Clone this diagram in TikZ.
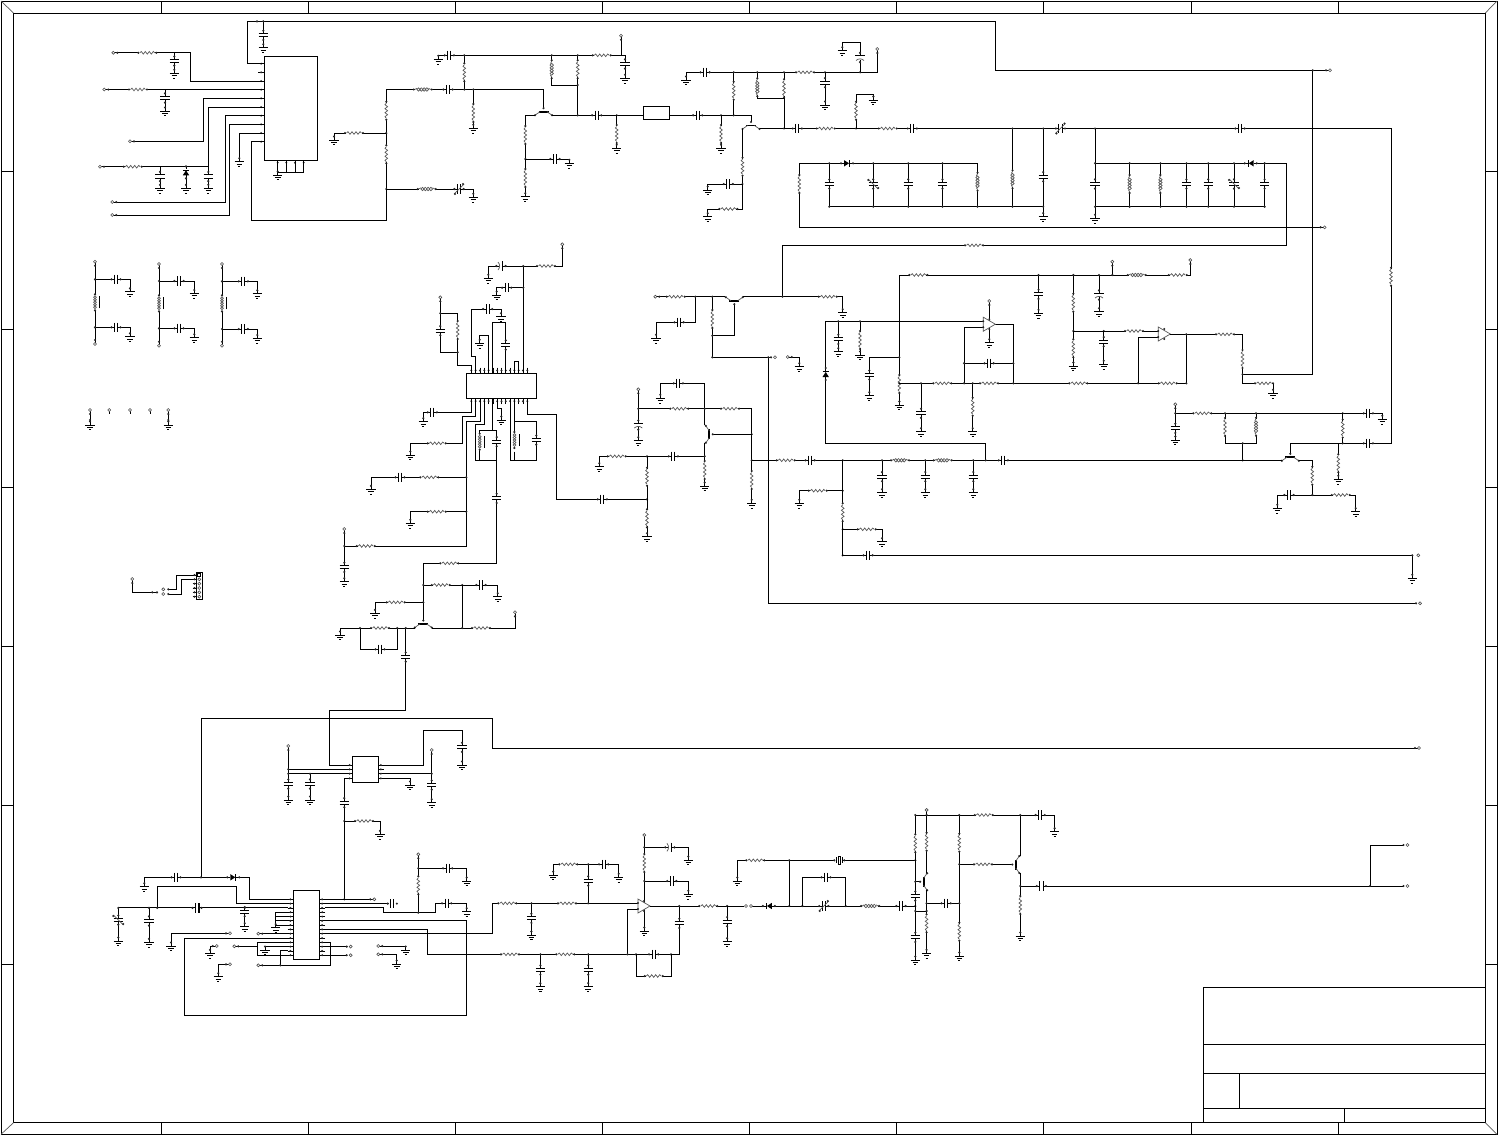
\documentclass[tikz,border=0pt]{standalone}
\usetikzlibrary{calc}
\tikzset{
  wire/.style={black,line width=1pt,line join=miter},
  frameline/.style={black,line width=1pt},
  part/.style={black!65,line width=0.7pt},
  plate/.style={black,line width=1pt},
  erase/.style={white,line width=1.8pt},
  pinfill/.style={black!85},
}
\newcommand{\xW}[1]{\draw[wire] #1;}
\newcommand{\xJ}[1]{\foreach \p in {#1}{\fill[pinfill] \p circle (1.2);}}
\newcommand{\xpins}[1]{\fill[pinfill] (-#1,0) circle (1.2) (#1,0) circle (1.2);}
\newcommand{\xres}{\draw[erase] (-8,0)--(8,0);
  \draw[part] (-7.5,0)--(-6,-1.3)--(-4,1.3)--(-2,-1.3)--(0,1.3)--(2,-1.3)--(4,1.3)--(6,-1.3)--(7.5,0); \xpins{9}}
\newcommand{\xcap}{\draw[erase] (-1.5,0)--(1.5,0);
  \draw[plate] (-1.6,-4.6)--(-1.6,4.6) (1.6,-4.6)--(1.6,4.6); \xpins{4.6}}
\newcommand{\xind}{\draw[erase] (-8,0)--(8,0);
  \foreach \q in {-4.2,-1.4,1.4,4.2}{\draw[part] (\q,0) circle (1.7);}
  \draw[part] (-8,0)--(-5.8,-1.2) (8,0)--(5.8,-1.2); \xpins{9}}
\newcommand{\xcoil}{\draw[erase] (-8,0)--(8,0);\foreach \q in {-5,-2.5,0,2.5,5}{\draw[part] (\q,0) circle (1.4);}\xpins{8}\draw[black,line width=0.8pt] (-6,4.6)--(6,4.6);}
\newcommand{\xvar}{\xcap \draw[part] (-5,5)--(5,-5); \fill[pinfill] (4,-5) circle (1.1) (-4,5) circle (1.1);}
\newcommand{\xpol}{\draw[erase] (-2,0)--(2,0);
  \draw[plate] (1.6,-4.6)--(1.6,4.6); \draw[part] (-3,-4) .. controls (-0.8,-1.5) and (-0.8,1.5) .. (-3,4); \xpins{4.6}}
\newcommand{\xat}[4]{\begin{scope}[shift={(#1,#2)},rotate=#3]#4\end{scope}}
\newcommand{\xRh}[2]{\xat{#1}{#2}{0}{\xres}}
\newcommand{\xRv}[2]{\xat{#1}{#2}{90}{\xres}}
\newcommand{\xCh}[2]{\xat{#1}{#2}{0}{\xcap}}
\newcommand{\xCv}[2]{\xat{#1}{#2}{90}{\xcap}}
\newcommand{\xLh}[2]{\xat{#1}{#2}{0}{\xind}}
\newcommand{\xLv}[2]{\xat{#1}{#2}{90}{\xind}}
\newcommand{\xVh}[2]{\xat{#1}{#2}{0}{\xvar}}
\newcommand{\xVv}[2]{\xat{#1}{#2}{90}{\xvar}}
\newcommand{\xPh}[2]{\xat{#1}{#2}{0}{\xpol}}
\newcommand{\xPv}[2]{\xat{#1}{#2}{90}{\xpol}}
\newcommand{\xG}[2]{\xat{#1}{#2}{0}{\draw[plate] (-4.6,0)--(4.6,0) (-2.8,2.4)--(2.8,2.4) (-1.1,4.8)--(1.1,4.8); \fill[pinfill] (0,-3.5) circle (1.2);}}
\newcommand{\xTm}[2]{\filldraw[draw=black!70,fill=white,line width=0.6pt] (#1,#2) circle (1.5);}
\newcommand{\xTv}[2]{\xJ{(#1,#2+4)}\xTm{#1}{#2}}
\newcommand{\xTl}[2]{\xJ{(#1+4,#2)}\xTm{#1}{#2}}
\newcommand{\xTr}[2]{\xJ{(#1-4,#2)}\xTm{#1}{#2}}
\newcommand{\xQ}[3]{\xat{#1}{#2}{#3}{\draw[black,line width=1.9pt] (-5,0)--(5,0);
  \draw[part] (-3.5,0)--(-8.5,3.5) (3.5,0)--(8.5,3.5);
  \fill[pinfill] (-8.5,3.5) circle (1.2) (8.5,3.5) circle (1.2) (0,-3.5) circle (1.2);}}
\newcommand{\xO}[2]{\filldraw[draw=black!65,fill=white,line width=0.7pt] (#1,#2-7)--(#1,#2+7)--(#1+12,#2)--cycle;
  \fill[pinfill] (#1,#2-3) circle (1.1) (#1,#2+3) circle (1.1) (#1+6,#2-5) circle (1.1) (#1+6,#2+5) circle (1.1);}
\newcommand{\xD}[3]{\xat{#1}{#2}{#3}{\draw[erase] (-3,0)--(3,0);
  \fill[black] (-3,-3.2)--(-3,3.2)--(2,0)--cycle; \draw[black,line width=1.2pt] (2.2,-3.2)--(2.2,3.2); \xpins{6}}}
\newcommand{\xPl}[3]{\foreach \yy in {#3}{\draw[black,line width=0.8pt] (#1,\yy)--(#2,\yy); \fill[pinfill] ({(#1+#2)/2},\yy) circle (1.1);}}
\newcommand{\xPt}[3]{\foreach \xx in {#3}{\draw[black,line width=0.8pt] (\xx,#1)--(\xx,#2); \fill[pinfill] (\xx,{(#1+#2)/2}) circle (1.1);}}
\begin{document}
\begin{tikzpicture}[x=1pt,y=-1pt]
\useasboundingbox (0,0) rectangle (1498,1136);
\fill[white] (0,0) rectangle (1498,1136);
% ---------- sheet frame
\draw[frameline] (1,1) rectangle (1497,1134.3);
\draw[frameline] (13.5,13) rectangle (1485.3,1122.7);
\foreach \xx in {161,308,455,602,749,896,1043,1191,1338}{\draw[frameline] (\xx,1)--(\xx,13) (\xx,1122.7)--(\xx,1134.3);}
\foreach \yy in {171,329,487,646,805,964}{\draw[frameline] (1,\yy)--(13.5,\yy) (1485.3,\yy)--(1497,\yy);}
\draw[part] (1,1)--(13.5,13) (1497,1)--(1485.3,13) (1,1134.3)--(13.5,1122.7) (1497,1134.3)--(1485.3,1122.7);
% title block
\draw[frameline] (1203.3,1122.7)--(1203.3,987.3)--(1485.3,987.3);
\draw[frameline] (1203.3,1044.3)--(1485.3,1044.3) (1203.3,1073.3)--(1485.3,1073.3) (1203.3,1108.3)--(1485.3,1108.3);
\draw[frameline] (1239.3,1073.3)--(1239.3,1108.3) (1344.3,1108.3)--(1344.3,1122.7);

% ========== top-left chip
\xPl{258}{264.3}{63.7,72.3,81,89.7,98.3,107,115.7,124.3,133,141.7}
\xPt{160.3}{165}{277.7,286.3,295,303.7}
\draw[frameline] (264.3,56.3) rectangle (317.7,160.3);
\xW{(262,63.7)--(247.3,63.7)--(247.3,21.3)--(995,21.3)--(995,70.3)--(1330,70.3)}
\xW{(263.3,21.3)--(263.3,47.7)} \xCv{263.3}{35.3} \xG{263.3}{47.7} \xJ{(257,21.3),(263.3,21.3)}
\xW{(113.3,52.8)--(190.3,52.8)--(190.3,81)--(262,81)} \xTl{113.3}{52.8} \xRh{147.3}{52.8}
\xW{(174.3,52.8)--(174.3,73.3)} \xCv{174.3}{61} \xG{174.3}{73.3}
\xW{(104.3,89.5)--(262,89.5)} \xTl{104.3}{89.5} \xRh{138}{89.5}
\xW{(165,89.5)--(165,111)} \xCv{165}{98} \xG{165}{111}
\xW{(130,141.3)--(203.3,141.3)--(203.3,98.3)--(262,98.3)} \xTl{130}{141.3}
\xW{(100,166.7)--(208.3,166.7)--(208.3,107)--(262,107)} \xTl{100}{166.7} \xRh{132.7}{166.7}
\xW{(160,166.7)--(160,188.3)} \xCv{160}{176.5} \xG{160}{188.3}
\xW{(186,166.7)--(186,188.3)} \xD{186}{172.3}{90} \xG{186}{188.3}
\xW{(208.3,166.7)--(208.3,188.3)} \xCv{208.3}{176.5} \xG{208.3}{188.3}
\xW{(112.3,202)--(225.3,202)--(225.3,115.7)--(262,115.7)} \xTl{112.3}{202}
\xW{(112.3,215)--(229.3,215)--(229.3,124.3)--(262,124.3)} \xTl{112.3}{215}
\xW{(262,133)--(239.3,133)--(239.3,161.7)} \xG{239.3}{161.7}
\xW{(262,141.7)--(251.3,141.7)--(251.3,220.3)--(386.3,220.3)--(386.3,89.5)--(473.3,89.5)}
\xW{(277.7,160.3)--(277.7,172.3)--(303.7,172.3)--(303.7,160.3) (286.3,160.3)--(286.3,172.3) (295,160.3)--(295,172.3)} \xW{(277.7,172.3)--(277.7,175)} \xG{277.7}{175}
\xRv{386.3}{110.7} \xRv{386.3}{154.3} \xJ{(386.3,133),(386.3,189)}
\xW{(386.3,133)--(334,133)--(334,140)} \xRh{354}{133} \xG{334}{140}
\xLh{422.7}{89.5} \xCh{448}{89.5}
\xW{(386.3,189)--(473.3,189)--(473.3,197.3)} \xLh{426.7}{189} \xVh{459}{189} \xG{473.3}{197.3}

% ========== top middle
\xW{(438.3,59.3)--(438.3,55.3)--(621,55.3) (621,35.7)--(621,55.3)--(625,55.3)--(625,78.3)} \xG{438.3}{59.3} \xCh{449.3}{55.3} \xRh{601.7}{55.3} \xTv{621}{35.7} \xCv{625}{64} \xG{625}{78.3}
\xW{(464.3,55.3)--(464.3,89.5)} \xRv{464.3}{72.3}
\xW{(473.3,89.5)--(473.3,128.3)} \xRv{473.3}{113} \xG{473.3}{128.3}
\xW{(473.3,89.5)--(543.7,89.5)--(543.7,108)} \xQ{543.5}{111.7}{0}
\xW{(535,115.3)--(525.3,115.3)--(525.3,196.7)} \xRv{525.3}{135} \xRv{525.3}{178} \xG{525.3}{196.7} \xJ{(525.3,159)}
\xW{(525.3,159)--(569.3,159)--(569.3,163.3)} \xCh{555}{159} \xG{569.3}{163.3}
\xW{(551.7,55.3)--(551.7,85)--(577.7,85) (577.7,55.3)--(577.7,115.3)} \xLv{551.7}{69.3} \xRv{577.7}{69.3}
\xW{(551.7,115.3)--(643.3,115.3)} \xCh{596.7}{115.3} \xJ{(577.7,115.3),(616.7,115.3),(577.7,85),(551.7,55.3),(577.7,55.3),(464.3,55.3),(464.3,89.5),(473.3,89.5)}
\xW{(616.7,115.3)--(616.7,148.3)} \xRv{616.7}{134} \xG{616.7}{148.3}
\draw[frameline] (643.3,106.3) rectangle (669.3,119.3);
\xW{(669.3,115.3)--(751,115.3)--(751,122)} \xCh{697.7}{115.3} \xJ{(721,115.3),(733.7,115.3)}
\xW{(721,115.3)--(721,148.3)} \xRv{721}{134} \xG{721}{148.3}
\xW{(733.7,115.3)--(733.7,72.3)} \xRv{733.7}{90.7}
\xQ{751}{125.5}{0}
\xW{(742.5,129)--(742.5,209)--(707.7,209)--(707.7,216.7)} \xRv{742.5}{166.7} \xRh{728.3}{209} \xG{707.7}{216.7} \xJ{(742.5,184)}
\xW{(742.5,184)--(707.7,184)--(707.7,190)} \xCh{728.3}{184} \xG{707.7}{190}
\xW{(759.5,128.5)--(1391,128.5)--(1391,443.3)--(1290.3,443.3)--(1290.3,454)} \xJ{(784,128.5),(856,128.5)}
\xW{(784,128.5)--(784,72.3) (784,98.3)--(757.3,98.3)--(757.3,72.3)} \xRv{784}{88.3} \xLv{757.3}{87.3}
\xW{(686,80)--(686,72.3)--(877.3,72.3)--(877.3,49)} \xG{686}{80} \xCh{705}{72.3} \xRh{805}{72.3} \xTv{877.3}{49}
\xJ{(733.7,72.3),(757.3,72.3),(784,72.3),(825,72.3),(860,72.3)}
\xW{(825,72.3)--(825,105)} \xCv{825}{82.7} \xG{825}{105}
\xW{(860,72.3)--(860,42.7)--(842.3,42.7)--(842.3,50.7)} \xPv{860}{57.5} \xG{842.3}{50.7}
\xCh{797.3}{128.5} \xRh{825.7}{128.5} \xRh{887.7}{128.5} \xCh{912.3}{128.5} \xVh{1060.4}{128.5} \xCh{1240}{128.5}
\xW{(856,128.5)--(856,94.3)--(873.3,94.3)--(873.3,100)} \xRv{856}{110.7} \xG{873.3}{100}

% ========== tank circuits
\xW{(977.5,206.7)--(977.5,163.3)--(799.3,163.3)--(799.3,227.3)--(1324.6,227.3)} \xTr{1324.6}{227.3} \xRv{799.3}{184} \xD{847}{163.3}{0}
\xW{(829.3,163.3)--(829.3,206.7)--(1043.2,206.7)} \xCv{829.3}{184}
\xW{(873.2,163.3)--(873.2,206.7)} \xVv{873.2}{184}
\xW{(908.2,163.3)--(908.2,206.7)} \xCv{908.2}{184}
\xW{(942.5,163.3)--(942.5,206.7)} \xCv{942.5}{184}
\xLv{977.5}{181.7}
\xW{(1012.5,128.5)--(1012.5,206.7)} \xLv{1012.5}{179.3}
\xW{(1043.2,128.5)--(1043.2,216.7)} \xCv{1043.2}{176.7} \xG{1043.2}{216.7}
\xJ{(1012.5,128.5),(1043.2,128.5),(1095,128.5),(829.3,163.3),(873.2,163.3),(908.2,163.3),(942.5,163.3),(829.3,206.7),(873.2,206.7),(908.2,206.7),(942.5,206.7),(977.5,206.7),(1012.5,206.7),(1043.2,206.7)}
\xW{(1095,128.5)--(1095,218.3)} \xCv{1095}{184} \xG{1095}{218.3}
\xW{(1095,163.3)--(1286.4,163.3)--(1286.4,245.3)--(782.5,245.3)--(782.5,296.7)} \xRh{974}{245.3} \xD{1250.7}{163.3}{180}
\xW{(1095,206.7)--(1264.6,206.7)--(1264.6,163.3)} \xCv{1264.6}{184}
\xW{(1129.6,163.3)--(1129.6,206.7)} \xLv{1129.6}{184}
\xW{(1160.4,163.3)--(1160.4,206.7)} \xLv{1160.4}{184}
\xW{(1186.4,163.3)--(1186.4,206.7)} \xCv{1186.4}{184}
\xW{(1208.2,163.3)--(1208.2,206.7)} \xCv{1208.2}{184}
\xW{(1234,163.3)--(1234,206.7)} \xVv{1234}{184}
\xJ{(1095,163.3),(1095,206.7),(1129.6,163.3),(1160.4,163.3),(1186.4,163.3),(1208.2,163.3),(1234,163.3),(1264.6,163.3),(1129.6,206.7),(1160.4,206.7),(1186.4,206.7),(1208.2,206.7),(1234,206.7),(1264.6,206.7)}
\xW{(1312.8,70.3)--(1312.8,374.3)--(1242.5,374.3)} \xTr{1330}{70.3} \xJ{(1312.8,70.3)}

% ========== small inductors
\foreach \xa/\xb/\xc/\ya/\yb/\yc/\yd/\ye in {95/116/130/261.7/279.3/302.3/327.3/344,159/179/194.3/264/281/303.3/328.3/345.7,222/243.3/257.3/264/281.3/303.3/329/345.7}{
 \xW{(\xa,\ya)--(\xa,\ye)}
 \xW{(\xa,\yb)--(\xc,\yb)--(\xc,\yb+12.5) (\xa,\yd)--(\xc,\yd)--(\xc,\yd+9.5)}
 \xCh{\xb}{\yb} \xCh{\xb}{\yd} \xG{\xc}{\yb+12.5} \xG{\xc}{\yd+9.5}
 \xTv{\xa}{\ya} \xTm{\xa}{\ye} \xJ{(\xa,\ye-4),(\xa,\yb),(\xa,\yd)}
 \xat{\xa}{\yc}{90}{\xcoil}
}
\foreach \xx in {90,168.3}{\xW{(\xx,410)--(\xx,425)} \xTv{\xx}{410} \xJ{(\xx,420)} \xG{\xx}{425}}
\foreach \xx in {109.3,130,150}{\draw[black,line width=0.8pt] (\xx,410)--(\xx,414); \xTm{\xx}{410}}

% ========== connector
\xPl{192.7}{196.3}{575,579.3,583.7,588,592.3,596.7}
\draw[frameline] (196.3,572.3) rectangle (202.3,599.3);
\foreach \yy in {579.3,583.7,588,592.3,596.7}{\xTm{199.3}{\yy}}
\draw[black,line width=0.7pt] (197.8,573.5) rectangle (200.8,576.5);
\xW{(132.3,579)--(132.3,592.3)--(158,592.3) (168.3,589.3)--(176,589.3)--(176,575)--(193,575) (168.3,594)--(181.7,594)--(181.7,579.3)--(193,579.3)}
\xTv{132.3}{579} \xJ{(152.3,592.3),(157,592.3),(168.3,589.3),(168.3,594)} \xTm{163.3}{589.3} \xTm{163.3}{594}

% ========== middle chip
\xPt{367.5}{373.3}{471.3,475.6,480,484.3,488.6,492.9,497.2,501.5,505.8,510.1,514.4,518.7,523,527.3}
\xPt{404}{398.3}{471.3,475.6,480,484.3,488.6,492.9,497.2,501.5,505.8,510.1,514.4,518.7,523,527.3}
\draw[frameline] (466.3,373.3) rectangle (536.3,398.3);
\xW{(562.3,244.3)--(562.3,266)--(488.3,266)--(488.3,278.3)} \xTv{562.3}{244.3} \xRh{546}{266} \xPh{501}{266} \xG{488.3}{278.3}
\xW{(523.3,266)--(523.3,373.3) (523.3,287.7)--(496.7,287.7)--(496.7,295)} \xCh{506.7}{287.7} \xG{496.7}{295} \xJ{(523.3,266),(523.3,287.7)}
\xW{(440.3,297.3)--(440.3,352.3)--(457.7,352.3) (440.3,313.3)--(457.7,313.3)--(457.7,365.3)--(471.3,365.3)--(471.3,373.3)} \xTv{440.3}{297.3} \xCv{440.3}{330.7} \xRv{457.7}{330} \xJ{(440.3,313.3),(457.7,352.3)}
\xW{(475.6,373.3)--(475.6,356)--(471.3,356)--(471.3,309)--(501,309)--(501,316.7)} \xCh{487.7}{309} \xG{501}{316.7}
\xW{(488.6,373.3)--(488.6,335)--(479.7,335)--(479.7,343.3)} \xG{479.7}{343.3}
\xW{(492.9,373.3)--(492.9,322.3)--(505.8,322.3)--(505.8,373.3)} \xCv{505.8}{345}
\xW{(514.4,373.3)--(514.4,361)--(518.7,361)--(518.7,373.3)}
\xW{(471.3,398.3)--(471.3,412.3)--(423.3,412.3)--(423.3,421.7)} \xCh{432.3}{412.3} \xG{423.3}{421.7}
\xW{(475.6,398.3)--(475.6,416.7)--(462.7,416.7)--(462.7,443.3)--(410.3,443.3)--(410.3,455)} \xRh{436.7}{443.3} \xG{410.3}{455}
\xW{(480,398.3)--(480,421.7)--(466.3,421.7)--(466.3,546)--(344.3,546)} \xRh{365.7}{546}
\xW{(344.3,529)--(344.3,581.7)} \xTv{344.3}{529} \xCv{344.3}{567.3} \xG{344.3}{581.7} \xJ{(344.3,546)}
\xW{(466.3,477.3)--(371,477.3)--(371,489.3)} \xRh{429.3}{477.3} \xCh{400}{477.3} \xG{371}{489.3} \xJ{(466.3,477.3),(466.3,511.7)}
\xW{(466.3,511.7)--(410.3,511.7)--(410.3,523.3)} \xRh{436.7}{511.7} \xG{410.3}{523.3}
\xW{(484.3,398.3)--(484.3,424.3)--(475.3,424.3)--(475.3,460)--(496.7,460)}
\xW{(492.9,398.3)--(492.9,430)--(479.7,430)--(479.7,460) (496.7,430)--(492.9,430)}
\xW{(496.7,430)--(496.7,563.3)--(423.3,563.3)--(423.3,620)} \xCv{496.7}{441.7} \xCv{496.7}{498.3} \xRh{449.3}{563.3}
\xat{479.7}{441.7}{90}{\xcoil}
\xW{(497.2,398.3)--(497.2,408)--(501.3,408)--(501.3,420)} \xG{501.3}{420}
\xW{(510.1,398.3)--(510.1,460)--(536.3,460)--(536.3,421.7)--(514.4,421.7)--(514.4,398.3) (514.4,451.7)--(514.4,460)} \xCv{536.3}{440}
\xW{(514.4,421.7)--(514.4,432)}
\xat{514.4}{440}{90}{\xcoil}
\xW{(527.3,398.3)--(527.3,414)--(556.3,414)--(556.3,499.3)--(647,499.3)} \xCh{602.3}{499.3}
\xW{(423.3,585)--(497.7,585)--(497.7,596.7)} \xRh{440.7}{585} \xCh{481}{585} \xG{497.7}{596.7} \xJ{(423.3,585),(423.3,602.3),(462.3,585)}
\xW{(423.3,602.3)--(375,602.3)--(375,613.3)} \xRh{395.7}{602.3} \xG{375}{613.3}
\xQ{423.3}{624}{0}
\xW{(432,628)--(515,628)--(515,612.3) (462.3,585)--(462.3,628)} \xRh{481}{628} \xTv{515}{612.3} \xJ{(462.3,628)}
\xW{(414.5,628)--(340,628)--(340,635) (360,628)--(360,649.3)--(397.3,649.3)--(397.3,628) (405.7,628)--(405.7,710.5)--(329.3,710.5)--(329.3,765)--(347,765)} \xG{340}{635} \xRh{380}{628} \xCh{380}{649.3} \xCv{405.7}{657} \xJ{(360,628),(397.3,628),(405.7,628)}

% ========== lower chip 3
\xPl{347}{352.3}{765,769.3,773.7,778.3}
\xPl{383.5}{378.3}{765,769.3,773.7,778.3}
\draw[frameline] (352.3,756.3) rectangle (378.3,782.3);
\xW{(288.3,746)--(288.3,800) (288.3,769.3)--(347,769.3) (288.3,773.7)--(347,773.7) (310,773.7)--(310,800)} \xTv{288.3}{746} \xCv{288.3}{784} \xG{288.3}{800} \xCv{310}{784} \xG{310}{800} \xJ{(288.3,769.3),(288.3,773.7),(310,773.7)}
\xW{(347,778.3)--(344.3,778.3)--(344.3,899.3)} \xCv{344.3}{802.7} \xJ{(344.3,821),(344.3,899.3)}
\xW{(344.3,821)--(380,821)--(380,834.3)} \xRh{364}{821} \xG{380}{834.3}
\xW{(383.5,765)--(423.3,765)--(423.3,730)--(462,730)--(462,765)} \xCv{462}{747.3} \xG{462}{765}
\xW{(383.5,773.7)--(431.7,773.7) (431.7,750)--(431.7,802.7)} \xTv{431.7}{750} \xCv{431.7}{785} \xG{431.7}{802.7} \xJ{(431.7,773.7)}
\xW{(383.5,778.3)--(410,778.3)--(410,785)} \xG{410}{785}
\xW{(201,877.3)--(201,718)--(492.5,718)--(492.5,748)--(1418,748)} \xTr{1419}{748}

% ========== chip 4
\xPl{287.5}{293.3}{899.3,903.6,907.9,912.2,916.5,920.8,925.1,929.4,933.7,938,942.3,946.6,950.9,955.2}
\xPl{325}{319.3}{899.3,903.6,907.9,912.2,916.5,920.8,925.1,929.4,933.7,938,942.3,946.6,950.9,955.2}
\draw[frameline] (293.3,890.3) rectangle (319.3,959.3);
\xW{(144.3,886.7)--(144.3,877.3)--(249.3,877.3)--(249.3,899.3)--(288,899.3)} \xG{144.3}{886.7} \xCh{176}{877.3} \xD{233.3}{877.3}{0} \xJ{(201,877.3)}
\xW{(157.3,907.9)--(157.3,886.7)--(236.3,886.7)--(236.3,903.6)--(288,903.6)}
\xW{(118.3,941)--(118.3,907.9)--(288,907.9) (149,907.9)--(149,942.3) (244.7,907.9)--(244.7,926.7)} \xVv{118.3}{920} \xG{118.3}{941} \xCv{149}{921} \xG{149}{942.3} \xCv{244.7}{911.7} \xG{244.7}{926.7}
\xat{197}{907.9}{0}{\draw[erase] (-2,0)--(2,0); \draw[plate] (-1.6,-4.6)--(-1.6,4.6); \draw[black,line width=1.8pt] (1.6,-4.6)--(1.6,4.6); \xpins{4.6}}
\xJ{(149,907.9),(157.3,907.9),(244.7,907.9),(118.3,907.9)}
\xW{(288,912.2)--(275.7,912.2)--(275.7,927.7) (275.7,916.5)--(288,916.5) (275.7,920.8)--(288,920.8) (275.7,925.1)--(288,925.1)} \xG{275.7}{927.7}
\xW{(258.3,933.7)--(288,933.7)} \xTl{258.3}{933.7}
\xW{(230,933.3)--(171,933.3)--(171,946)} \xTr{230}{933.3} \xG{171}{946}
\xW{(288,938)--(184.7,938)--(184.7,1015.3)--(466.7,1015.3)--(466.7,920.8)--(325,920.8)}
\xW{(288,942.3)--(257.3,942.3)--(257.3,955.2)--(288,955.2) (234.3,946.3)--(257.3,946.3)} \xTl{234.3}{946.3}
\xW{(288,946.6)--(265,946.6)--(265,950)} \xG{265}{950}
\xW{(288,950.9)--(280.3,950.9)--(280.3,965.3)--(258.3,965.3) (280.3,965.3)--(330.3,965.3)--(330.3,942.3)--(325,942.3)} \xTl{258.3}{965.3} \xJ{(280.3,965.3)}
\xW{(216.7,946)--(210,946)--(210,953.3)} \xTr{216.7}{946} \xG{210}{953.3}
\xW{(230,964.3)--(218.3,964.3)--(218.3,976.7)} \xTr{230}{964.3} \xG{218.3}{976.7}
\xW{(325,899.3)--(374.3,899.3)} \xTr{374.3}{899.3}
\xW{(325,903.6)--(389,903.6)} \xCh{392.3}{903.6}
\xW{(325,907.9)--(383.7,907.9)--(383.7,912.7)--(435.7,912.7)--(435.7,903.3)--(466.7,903.3)--(466.7,911.7)} \xCh{446.7}{903.3} \xG{466.7}{911.7}
\xW{(418.3,854.3)--(418.3,912.7) (418.3,868.3)--(466.7,868.3)--(466.7,881)} \xTv{418.3}{854.3} \xRv{418.3}{885.3} \xCh{447.7}{868.3} \xG{466.7}{881} \xJ{(418.3,868.3),(418.3,912.7)}
\xW{(325,929.4)--(427.3,929.4)--(427.3,954.3)--(679.3,954.3)--(679.3,906)}
\xW{(325,933.7)--(492.3,933.7)--(492.3,903.3)--(627,903.3)}
\xW{(325,946.6)--(346,946.6) (325,955.2)--(346,955.2)} \xTr{350.7}{946.6} \xTr{350.7}{955.2}
\xW{(378.3,946)--(405.7,946)--(405.7,950) (378.3,954.3)--(396.7,954.3)--(396.7,964)} \xTl{378.3}{946} \xTl{378.3}{954.3} \xG{405.7}{950} \xG{396.7}{964}

% ========== lower amplifier
\xRh{507.3}{903.3} \xRh{567}{903.3}
\xW{(531.4,903.3)--(531.4,935)} \xCv{531.4}{918.3} \xG{531.4}{935}
\xW{(588.2,903.3)--(588.2,864.3)--(618.7,864.3)--(618.7,877.3) (588.2,864.3)--(553.2,864.3)--(553.2,875)} \xCv{588.2}{881} \xRh{568.3}{864.3} \xCh{603.7}{864.3} \xG{553.2}{875} \xG{618.7}{877.3} \xJ{(588.2,864.3),(531.4,903.3),(588.2,903.3)}
\xW{(627,903.3)--(638,903.3) (644.3,835)--(644.3,931)} \xTm{644.3}{835} \xRv{644.3}{863} \xG{644.3}{931}
\xW{(644.3,847.3)--(688.3,847.3)--(688.3,860) (644.3,881)--(688.3,881)--(688.3,894.3)} \xPh{669.9}{847.3} \xCh{671.8}{881} \xG{688.3}{860} \xG{688.3}{894.3} \xJ{(644.3,847.3),(644.3,881)}
\xW{(627.4,909.3)--(638,909.3) (627.4,909.3)--(627.4,954.3)}
\xO{638}{906}
\xRh{510}{954.3} \xRh{565.3}{954.3}
\xW{(540.4,954.3)--(540.4,986.7) (588.2,954.3)--(588.2,986.7)} \xCv{540.4}{970} \xCv{588.2}{970} \xG{540.4}{986.7} \xG{588.2}{986.7} \xJ{(540.4,954.3),(588.2,954.3),(627.4,954.3),(636,954.3),(671,954.3)}
\xW{(636,954.3)--(636,976)--(671,976)--(671,954.3)} \xCh{653.7}{954.3} \xRh{653.7}{976}
\xW{(650,906)--(744,906) (750,906)--(915.3,906)} \xCv{679.3}{923.3} \xRh{708.3}{906} \xJ{(679.3,906),(727.1,906),(789.2,906),(802.4,906),(845.7,906),(915.3,906)}
\xW{(727.1,906)--(727.1,941.7)} \xCv{727.1}{921.7} \xG{727.1}{941.7}
\xTm{746}{906} \xTm{751}{906} \xD{768.9}{906}{180}
\xW{(789.2,906)--(789.2,860.3)--(737.3,860.3)--(737.3,881) (789.2,860.3)--(915.3,860.3)} \xRh{755.3}{860.3} \xG{737.3}{881} \xJ{(789.2,860.3),(915.3,860.3)}
\xat{839.3}{860.3}{0}{\draw[erase] (-4,0)--(4,0); \filldraw[draw=black,fill=white,line width=0.7pt] (-1.3,-4) rectangle (1.3,4); \draw[black,line width=0.7pt] (-3,-3)--(-3,3) (3,-3)--(3,3); \xpins{5}}
\xW{(802.4,906)--(802.4,877.3)--(845.7,877.3)--(845.7,906)} \xCh{826}{877.3} \xVh{823.8}{906} \xLh{870.1}{906} \xCh{901}{906}
\xW{(926.6,810)--(926.6,815) (915.3,815)--(1054.6,815)--(1054.6,831.7)} \xTm{926.6}{810} \xCh{1040.2}{815} \xG{1054.6}{831.7} \xRh{983.8}{815}
\xW{(915.3,815)--(915.3,960)} \xRv{915.3}{843.3} \xCv{915.3}{896} \xCv{915.3}{937.3} \xG{915.3}{960}
\xW{(915.3,881.7)--(920,881.7) (915.3,911)--(926.6,911)} \xQ{923.6}{881.7}{90}
\xW{(926.6,815)--(926.6,873.3) (926.6,890)--(926.6,953.3)} \xRv{926.6}{841.7} \xRv{926.6}{923.3} \xG{926.6}{953.3}
\xW{(926.6,903.3)--(959.3,903.3)} \xCh{946.2}{903.3}
\xW{(959.3,815)--(959.3,956)} \xRv{959.3}{842.7} \xRv{959.3}{931.7} \xG{959.3}{956}
\xW{(959.3,864.3)--(1012,864.3)} \xRh{983}{864.3} \xQ{1015.8}{864.5}{90}
\xW{(1020.3,815)--(1020.3,856) (1020.3,873)--(1020.3,936)} \xRv{1020.3}{905} \xG{1020.3}{936}
\xW{(1020.3,886)--(1403,886) (1370,886)--(1370,845)--(1403,845)} \xCh{1041.4}{886} \xTr{1407.5}{886} \xTr{1407.5}{845}
\xJ{(915.3,815),(926.6,815),(959.3,815),(1020.3,815),(915.3,881.7),(915.3,911),(926.6,911),(926.6,903.3),(959.3,903.3),(959.3,864.3),(1020.3,886),(1370,886)}

% ========== mid-right amplifier
\xW{(655.3,296.7)--(725,296.7)} \xTl{655.3}{296.7} \xRh{675.7}{296.7}
\xW{(695.3,296.7)--(695.3,322.3)--(656,322.3)--(656,338.3)} \xCh{679}{322.3} \xG{656}{338.3}
\xW{(712.3,296.7)--(712.3,357.3)--(771,357.3) (712.3,335.7)--(734.3,335.7)--(734.3,304)} \xRv{712.3}{319} \xQ{734.3}{300.7}{180}
\xW{(743.3,296.7)--(842.7,296.7)--(842.7,312.7)} \xRh{827.7}{296.7} \xG{842.7}{312.7} \xJ{(695.3,296.7),(712.3,296.7),(782.5,296.7),(712.3,335.7),(712.3,357.3)}
\xTr{775}{357.3}
\xW{(768.3,357.3)--(768.3,603.3)--(1416,603.3)} \xTr{1420}{603.3} \xJ{(768.3,357.3)}
\xW{(787.7,357)--(799.3,357)--(799.3,366.7)} \xTl{787.7}{357} \xG{799.3}{366.7}
\xW{(983.3,321.3)--(825.7,321.3)--(825.7,443.3)--(985.7,443.3)--(985.7,460.3)} \xD{825.7}{374}{90}
\xW{(838.3,321.3)--(838.3,351.7)} \xCv{838.3}{339.3} \xG{838.3}{351.7}
\xW{(860,321.3)--(860,355)} \xRv{860}{340} \xG{860}{355} \xJ{(838.3,321.3),(860,321.3)}
\xW{(899.3,405)--(899.3,275)--(1190.3,275)--(1190.3,260)} \xRv{899.3}{384} \xG{899.3}{405} \xRh{918.3}{275} \xTv{1190.3}{260}
\xW{(899.3,357.3)--(869.3,357.3)--(869.3,395.7)} \xCv{869.3}{375} \xG{869.3}{395.7} \xJ{(899.3,357.3),(899.3,383.3)}
\xW{(899.3,383.3)--(1186.3,383.3)--(1186.3,334.3)} \xRh{942.3}{383.3} \xRh{989}{383.3} \xRh{1078.3}{383.3} \xRh{1167.7}{383.3}
\xW{(921,383.3)--(921,431.7)} \xCv{921}{413.3} \xG{921}{431.7}
\xW{(972.7,383.3)--(972.7,431.7)} \xRv{972.7}{406.7} \xG{972.7}{431.7}
\xW{(964,383.3)--(964,327.3)--(983.3,327.3) (964,363.3)--(1013.3,363.3) (1013.3,383.3)--(1013.3,324.3)--(995,324.3)} \xCh{989}{363.3}
\xW{(989.3,301)--(989.3,342.7)} \xTv{989.3}{301} \xG{989.3}{342.7}
\xO{983.3}{324.2}
\xJ{(921,383.3),(964,383.3),(972.7,383.3),(1013.3,383.3),(964,363.3),(1013.3,363.3),(1138,383.3),(1186.3,383.3)}
\xW{(1038.5,275)--(1038.5,313.3)} \xCv{1038.5}{294.3} \xG{1038.5}{313.3}
\xW{(1073.3,275)--(1073.3,366)} \xRv{1073.3}{302.7} \xRv{1073.3}{348.3} \xG{1073.3}{366}
\xW{(1099,275)--(1099,311.7)} \xPv{1099}{295} \xG{1099}{311.7}
\xW{(1112.3,275)--(1112.3,261.7)} \xTv{1112.3}{261.7} \xLh{1136.7}{275} \xRh{1177.7}{275}
\xJ{(1038.5,275),(1073.3,275),(1099,275),(1112.3,275),(1073.3,331),(1103.7,331)}
\xW{(1073.3,331)--(1158.3,331) (1103.7,331)--(1103.7,364.3)} \xCv{1103.7}{341.7} \xG{1103.7}{364.3} \xRh{1134}{331}
\xW{(1138,383.3)--(1138,337.3)--(1158.3,337.3)}
\xO{1158.3}{334}
\xW{(1170.3,334.3)--(1242.5,334.3)--(1242.5,383.3)--(1273,383.3)--(1273,393.3)} \xRh{1225}{334.3} \xRv{1242.5}{359} \xRh{1264}{383.3} \xG{1273}{393.3} \xJ{(1186.3,334.3),(1242.5,374.3)}
\xW{(1175.3,404.3)--(1175.3,440) (1175.3,413.3)--(1382.3,413.3)--(1382.3,419.3)} \xTv{1175.3}{404.3} \xCv{1175.3}{428.3} \xG{1175.3}{440} \xRh{1202.3}{413.3} \xCh{1368.3}{413.3} \xG{1382.3}{419.3}
\xW{(1225,413.3)--(1225,443.3)--(1256,443.3)--(1256,413.3)} \xRv{1225}{427} \xLv{1256}{426.7}
\xW{(1242.7,443.3)--(1242.7,460.3)} \xJ{(1175.3,413.3),(1225,413.3),(1256,413.3),(1342.7,413.3),(1242.7,443.3),(1242.7,460.3),(1342.7,443.3)}
\xW{(1342.7,413.3)--(1342.7,443.3)} \xRv{1342.7}{428.5}
\xCh{1368.3}{443.3} \xRv{1391}{276.7}
\xW{(1338.3,443.3)--(1338.3,479.3)} \xRv{1338.3}{463.3} \xG{1338.3}{479.3}
\xQ{1290.3}{457.3}{0}
\xW{(1299,460.3)--(1312.3,460.3)--(1312.3,495) (1277.3,508.3)--(1277.3,495)--(1355.7,495)--(1355.7,511.7)} \xRv{1312.3}{475.7} \xCh{1289}{495} \xRh{1340.7}{495} \xG{1277.3}{508.3} \xG{1355.7}{511.7} \xJ{(1312.3,495)}

% ========== mid transistor stage
\xW{(638.3,389.3)--(638.3,440.7) (638.3,408.7)--(751.7,408.7)--(751.7,503.3)} \xTv{638.3}{389.3} \xPv{638.3}{425} \xG{638.3}{440.7} \xRh{679.3}{408.7} \xRh{730}{408.7} \xRv{751.7}{480} \xG{751.7}{503.3}
\xW{(704.7,425)--(704.7,383.3)--(660.3,383.3)--(660.3,398.3)} \xCh{678.3}{383.3} \xG{660.3}{398.3} \xJ{(638.3,408.7),(704.7,408.7),(751.7,434.3),(751.7,460.3)}
\xW{(713,434.3)--(751.7,434.3)} \xQ{709.3}{434.3}{-90}
\xW{(704.7,443)--(704.7,486)} \xRv{704.7}{470} \xG{704.7}{486}
\xW{(599.3,466.7)--(599.3,456.3)--(704.7,456.3)} \xG{599.3}{466.7} \xRh{616.7}{456.3} \xCh{673.3}{456.3} \xJ{(647,456.3),(704.7,456.3),(647,499.3)}
\xW{(647,456.3)--(647,536.7)} \xRv{647}{476.7} \xRv{647}{518.3} \xG{647}{536.7}
\xW{(751.7,460.3)--(1281.7,460.3)} \xRh{785.7}{460.3} \xCh{810}{460.3} \xLh{900}{460.3} \xLh{942.7}{460.3} \xCh{1003.3}{460.3}
\foreach \xx in {882,925.3,973.3}{\xW{(\xx,460.3)--(\xx,492.7)} \xCv{\xx}{476.7} \xG{\xx}{492.7} \xJ{(\xx,460.3)}}
\xJ{(842.7,460.3),(985.7,460.3),(842.7,490.7),(842.7,529.3),(842.7,555.3)}
\xW{(842.7,460.3)--(842.7,555.3)--(1413,555.3) (1412.3,555.3)--(1412.3,578.3)} \xCh{868}{555.3} \xG{1412.3}{578.3} \xTm{1418.3}{555.3} \xJ{(1412.3,555.3)}
\xW{(842.7,490.7)--(799.3,490.7)--(799.3,503.3)} \xRh{817.7}{490.7} \xG{799.3}{503.3} \xRv{842.7}{512.3}
\xW{(842.7,529.3)--(882,529.3)--(882,541.7)} \xRh{866.7}{529.3} \xG{882}{541.7}
\end{tikzpicture}
\end{document}
